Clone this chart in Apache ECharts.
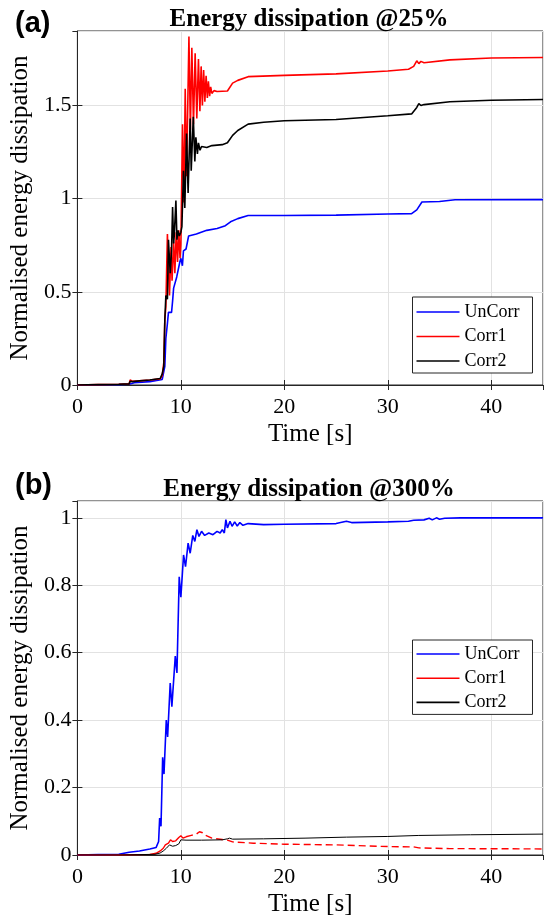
<!DOCTYPE html>
<html>
<head>
<meta charset="utf-8">
<script src="https://cdn.jsdelivr.net/npm/echarts@6/dist/echarts.min.js"></script>
<style>
html,body{margin:0;padding:0;background:#fff;}
#chart{width:544px;height:919px;}
</style>
</head>
<body>
<div id="chart"></div>
<script>
// ---------- data (time [s], normalised energy dissipation) ----------
const titleA = 'Energy dissipation @25%';
const titleB = 'Energy dissipation @300%';
const seriesNames = ['UnCorr', 'Corr1', 'Corr2'];
const xTicks = [0, 10, 20, 30, 40];

// Panel (a) @25%
const uncorrA = [[0,0],[2,0.001],[4,0.002],[5,0.004],[5.5,0.012],[7,0.018],[8.2,0.03],[8.45,0.1],[8.55,0.25],[8.7,0.33],[8.8,0.39],[9.1,0.39],[9.2,0.45],[9.3,0.52],[9.6,0.58],[9.9,0.66],[10.0,0.68],[10.15,0.64],[10.25,0.72],[10.5,0.73],[10.75,0.8],[11.5,0.81],[12.5,0.83],[13.5,0.84],[14.3,0.855],[14.8,0.876],[15.5,0.893],[16.5,0.91],[20,0.91],[25,0.912],[30,0.918],[32.3,0.92],[32.8,0.94],[33.3,0.982],[35,0.985],[36.5,0.994],[45,0.995]];
const corr1A = [[0,0],[2,0.002],[4,0.004],[5.0,0.006],[5.1,0.027],[5.3,0.02],[6,0.022],[7,0.027],[8.0,0.033],[8.2,0.05],[8.35,0.12],[8.45,0.35],[8.55,0.42],[8.7,0.81],[8.8,0.62],[8.9,0.48],[9.05,0.74],[9.15,0.56],[9.3,0.77],[9.42,0.6],[9.55,0.82],[9.68,0.66],[9.8,0.83],[9.92,0.68],[10.0,0.75],[10.16,1.4],[10.3,0.98],[10.42,1.59],[10.55,1.12],[10.78,1.87],[10.92,1.37],[11.06,1.81],[11.22,1.4],[11.38,1.78],[11.54,1.43],[11.7,1.75],[11.84,1.47],[11.96,1.71],[12.08,1.5],[12.2,1.69],[12.32,1.52],[12.44,1.66],[12.56,1.54],[12.66,1.63],[12.78,1.55],[12.88,1.6],[13.0,1.565],[13.2,1.58],[13.5,1.575],[14.5,1.578],[15.0,1.62],[15.5,1.635],[16.5,1.655],[20,1.662],[25,1.67],[30,1.685],[32,1.695],[32.5,1.71],[32.8,1.74],[33.0,1.725],[33.2,1.737],[33.5,1.73],[36,1.745],[40,1.755],[45,1.758]];
const corr2A = [[0,0],[2,0.002],[4,0.004],[5.0,0.006],[5.1,0.02],[5.3,0.018],[6,0.022],[7,0.027],[8,0.035],[8.2,0.06],[8.35,0.1],[8.45,0.35],[8.55,0.48],[8.7,0.46],[8.8,0.78],[8.97,0.6],[9.1,0.72],[9.2,0.955],[9.3,0.76],[9.36,0.8],[9.52,0.99],[9.62,0.78],[9.71,0.83],[9.85,0.8],[10.0,0.82],[10.1,0.85],[10.25,1.15],[10.38,0.95],[10.55,1.35],[10.7,1.03],[10.9,1.43],[11.0,1.15],[11.2,1.44],[11.35,1.2],[11.45,1.33],[11.6,1.24],[11.7,1.3],[11.85,1.26],[12.0,1.28],[12.5,1.275],[13,1.285],[14,1.29],[14.5,1.3],[15,1.34],[15.5,1.366],[16.5,1.4],[18,1.41],[20,1.418],[25,1.425],[30,1.445],[32.3,1.455],[32.8,1.49],[33,1.51],[33.2,1.5],[33.5,1.505],[36,1.52],[40,1.528],[45,1.532]];

// Panel (b) @300%
const uncorrB = [[0,0],[2,0.001],[4,0.002],[5,0.008],[6,0.012],[7,0.018],[7.6,0.022],[7.85,0.04],[7.95,0.11],[8.08,0.085],[8.24,0.29],[8.37,0.24],[8.59,0.4],[8.72,0.35],[8.97,0.51],[9.13,0.44],[9.46,0.59],[9.62,0.54],[9.84,0.825],[10.0,0.765],[10.26,0.89],[10.45,0.855],[10.7,0.925],[10.9,0.895],[11.15,0.948],[11.35,0.93],[11.55,0.965],[11.75,0.945],[12.0,0.96],[12.3,0.948],[12.7,0.955],[13.1,0.95],[13.5,0.96],[13.8,0.955],[14.0,0.965],[14.2,0.955],[14.35,0.995],[14.5,0.97],[14.75,0.99],[14.95,0.975],[15.2,0.988],[15.45,0.976],[15.7,0.986],[16,0.978],[16.5,0.983],[18,0.98],[20,0.981],[25,0.983],[26,0.99],[26.5,0.986],[30,0.988],[32,0.99],[32.5,0.993],[33.5,0.994],[34,0.999],[34.3,0.994],[34.7,1.0],[35,0.996],[35.5,0.999],[37,1.0],[45,1.0]];
const corr1B_solid = [[0,0],[4,0],[7,0.002],[7.6,0.005],[8.0,0.012],[8.3,0.02],[8.5,0.03],[8.8,0.035],[9.0,0.045],[9.2,0.04],[9.5,0.042],[9.8,0.052],[10.0,0.057],[10.2,0.05],[10.5,0.054]];
const corr1B_dashed = [[10.5,0.054],[11.0,0.058],[11.5,0.062],[11.8,0.069],[12.1,0.066],[12.4,0.058],[13.0,0.05],[14.0,0.046],[14.5,0.044],[15.0,0.039],[17,0.035],[20,0.032],[25,0.03],[28,0.027],[30,0.025],[32.5,0.024],[33,0.021],[36,0.019],[45,0.018]];
const corr2B = [[0,0],[4,0],[7.5,0.002],[8.0,0.006],[8.3,0.012],[8.6,0.02],[8.9,0.03],[9.2,0.026],[9.5,0.028],[9.8,0.033],[10.0,0.045],[10.5,0.044],[12,0.044],[14,0.045],[14.5,0.048],[14.7,0.05],[15,0.047],[18,0.048],[22,0.05],[26,0.053],[30,0.055],[33,0.058],[38,0.06],[45,0.062]];

// ---------- styling ----------
const SERIF = "'Liberation Serif','Times New Roman',serif";
const SANS = "'Liberation Sans',Arial,sans-serif";
const AX = '#262626';
const GRIDC = '#e2e2e2';
const BLUE = '#0000ff', RED = '#ff0000', BLACK = '#000000';
const TICKFS = 22, LABFS = 25;

function makeX(gi) {
  return {
    gridIndex: gi, type: 'value', min: 0, max: 45, interval: 10,
    axisLine: { show: true, onZero: false, lineStyle: { color: AX, width: 1 } },
    axisTick: { show: true, inside: true, length: 5, lineStyle: { color: AX } },
    axisLabel: { showMaxLabel: false, margin: 11, fontFamily: SERIF, fontSize: TICKFS, color: '#000',
      formatter: v => (xTicks.indexOf(v) >= 0 ? String(v) : '') },
    splitLine: { show: true, lineStyle: { color: GRIDC, width: 1 } },
    name: 'Time [s]', nameLocation: 'middle', nameGap: 37,
    nameTextStyle: { fontFamily: SERIF, fontSize: LABFS, color: '#000' }
  };
}
function makeXTop(gi) {
  return {
    gridIndex: gi, type: 'value', position: 'top', min: 0, max: 45, interval: 10,
    axisLine: { show: false }, axisLabel: { show: false }, splitLine: { show: false },
    axisTick: { show: true, inside: true, length: 5, lineStyle: { color: AX } }
  };
}
function makeY(gi, max, interval) {
  return {
    gridIndex: gi, type: 'value', min: 0, max: max, interval: interval,
    axisLine: { show: true, onZero: false, lineStyle: { color: AX, width: 1 } },
    axisTick: { show: true, inside: true, length: 5, lineStyle: { color: AX } },
    axisLabel: { showMaxLabel: false, margin: 6, fontFamily: SERIF, fontSize: TICKFS, color: '#000' },
    splitLine: { show: true, lineStyle: { color: GRIDC, width: 1 } },
    name: 'Normalised energy dissipation', nameLocation: 'middle', nameGap: 35,
    nameTextStyle: { fontFamily: SERIF, fontSize: LABFS, color: '#000' }
  };
}
function makeYRight(gi, max, interval) {
  return {
    gridIndex: gi, type: 'value', position: 'right', min: 0, max: max, interval: interval,
    axisLine: { show: false }, axisLabel: { show: false }, splitLine: { show: false },
    axisTick: { show: true, inside: true, length: 5, lineStyle: { color: AX } }
  };
}
function line(name, data, color, width, xi, extra) {
  return Object.assign({
    name: name, type: 'line', xAxisIndex: xi, yAxisIndex: xi, data: data,
    symbol: 'none', showSymbol: false, clip: true, silent: true,
    lineStyle: { color: color, width: width }, itemStyle: { color: color },
    z: 3
  }, extra || {});
}
function legend(top, padTop, gap) {
  return {
    orient: 'vertical', left: 412.5, top: top,
    padding: [padTop, 13, 3, 4], itemWidth: 43, itemHeight: 1.6, itemGap: gap,
    icon: 'rect',
    borderColor: AX, borderWidth: 1, backgroundColor: '#fff', borderRadius: 0,
    textStyle: { fontFamily: SERIF, fontSize: 18, color: '#000' },
    selectedMode: false,
    data: seriesNames.slice()
  };
}

const option = {
  animation: false,
  backgroundColor: '#ffffff',
  title: [
    { text: '(a)', left: 15, top: 9, padding: 0, textStyle: { fontFamily: SANS, fontWeight: 'bold', fontSize: 29, color: '#000' } },
    { text: titleA, left: 309, top: 7, padding: 0, textAlign: 'center', textStyle: { fontFamily: SERIF, fontWeight: 'bold', fontSize: 25, color: '#000' } },
    { text: '(b)', left: 15, top: 471, padding: 0, textStyle: { fontFamily: SANS, fontWeight: 'bold', fontSize: 29, color: '#000' } },
    { text: titleB, left: 309, top: 477, padding: 0, textAlign: 'center', textStyle: { fontFamily: SERIF, fontWeight: 'bold', fontSize: 25, color: '#000' } }
  ],
  grid: [
    { left: 75, top: 31, width: 468, height: 354, show: true, borderColor: AX, borderWidth: 1, backgroundColor: '#fff' },
    { left: 75, top: 501, width: 468, height: 354, show: true, borderColor: AX, borderWidth: 1, backgroundColor: '#fff' }
  ],
  xAxis: [makeX(0), makeX(1), makeXTop(0), makeXTop(1)],
  yAxis: [makeY(0, 1.9, 0.5), makeY(1, 1.05, 0.2), makeYRight(0, 1.9, 0.5), makeYRight(1, 1.05, 0.2)],
  legend: [legend(297, 6, 6.5), legend(640, 5, 6.2)],
  series: [
    line(seriesNames[0], uncorrA, BLUE, 1.6, 0),
    line(seriesNames[1], corr1A, RED, 1.6, 0),
    line(seriesNames[2], corr2A, BLACK, 1.6, 0),
    line(seriesNames[0], uncorrB, BLUE, 1.6, 1),
    line(seriesNames[1], corr1B_solid, RED, 1.4, 1),
    line(seriesNames[1], corr1B_dashed, RED, 1.4, 1, { lineStyle: { color: RED, width: 1.4, type: [7, 4] } }),
    line(seriesNames[2], corr2B, BLACK, 1.0, 1)
  ]
};

const chart = echarts.init(document.getElementById('chart'), null, { renderer: 'canvas' });
chart.setOption(option);
</script>
</body>
</html>
